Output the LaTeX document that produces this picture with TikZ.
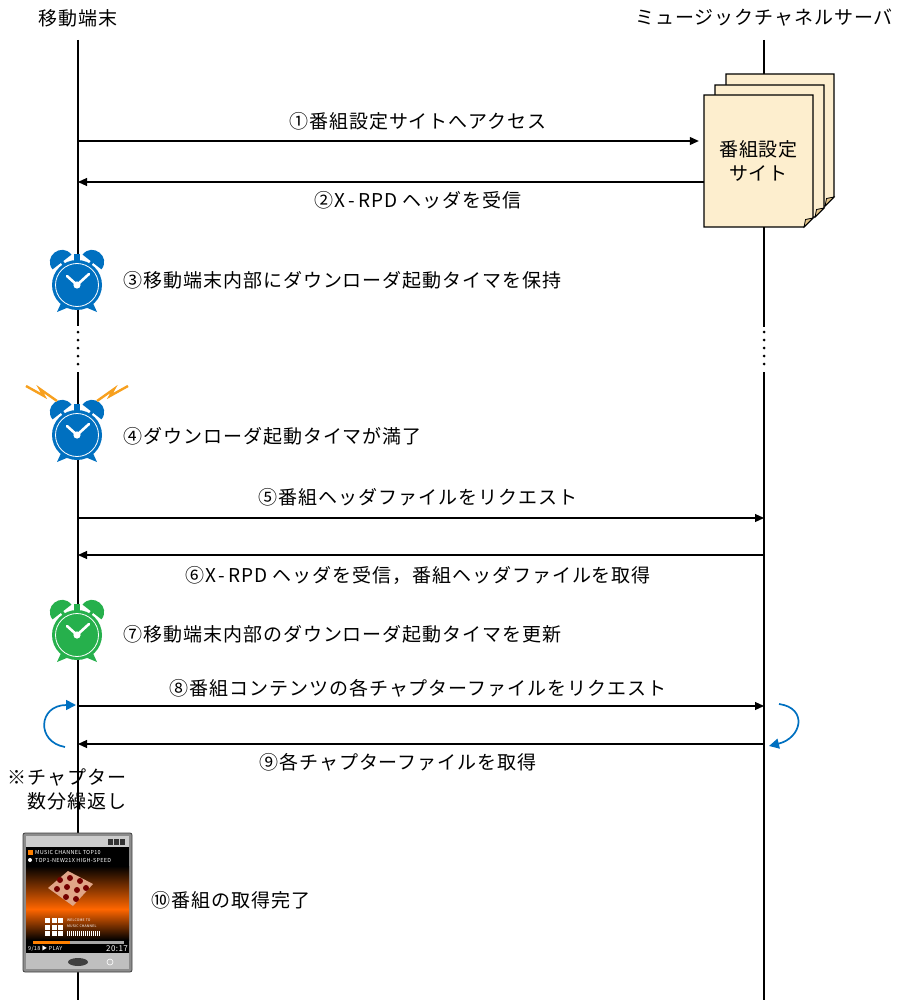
\documentclass[tikz,border=0pt]{standalone}
\usepackage{fontspec}
\setmainfont{Noto Sans CJK JP}[LetterSpace=5]
\usetikzlibrary{arrows.meta}

\definecolor{clockblue}{RGB}{0,112,192}
\definecolor{clockgreen}{RGB}{38,176,76}
\definecolor{sparkorange}{RGB}{247,160,30}
\definecolor{paper}{RGB}{253,238,206}
\definecolor{paperfold}{RGB}{226,196,138}
\definecolor{logotan}{RGB}{224,165,135}

% one sheet of the site stack, corner folded at bottom right
\newcommand\sitesheet[4]{%
  \filldraw[fill=paper,line width=1.1pt] (#1,#2) -- (#3,#2) -- (#3,#4-9) -- (#3-9,#4) -- (#1,#4) -- cycle;
  \filldraw[fill=paperfold,line width=0.8pt] (#3,#4-9) -- (#3-9,#4) -- (#3-7.5,#4-7.5) -- cycle;}

\tikzset{
  pics/alarm/.style={code={
    % bells and feet
    \foreach \s in {1,-1}{
      \begin{scope}[shift={({-15*\s},-23)},rotate={38*\s}]
        \fill[#1] (-12,0) .. controls (-12,-16) and (12,-16) .. (12,0) -- cycle;
        \fill[#1] (-1.5,-1) rectangle (1.5,3);
      \end{scope}
      \fill[#1] ({-15*\s},16) -- ({-20*\s},27) -- ({-8*\s},22) -- cycle;
    }
    \fill[#1] (-3,-31) rectangle (3,-23);
    % face
    \fill[#1] (0,0) circle (25);
    \draw[white,line width=0.8pt] (0,0) circle (21.5);
    \draw[white,line width=2.6pt,line cap=round] (-10,-9) -- (0,0) -- (12,-11);
    \fill[white] (0,0) circle (3.6);
  }}
}

\begin{document}
\begin{tikzpicture}[x=1pt,y=-1pt,font=\fontsize{19}{24}\selectfont,
  life/.style={line width=1.8pt},
  msg/.style={line width=1.1pt,-{Triangle[length=9pt,width=8pt]}},
  loop/.style={clockblue,line width=1.7pt,-{Triangle[length=10pt,width=10pt]}},
  tiny/.style={white,inner sep=0pt,font=\fontsize{5.5}{6}\selectfont}]
\useasboundingbox (0,0) rectangle (896,1000);

% lifelines
\node (term) at (78,18) {移動端末};
\node (serv) at (764,18) {ミュージックチャネルサーバ};
\coordinate (ta) at (78,40);  \coordinate (tb) at (78,326);
\coordinate (tc) at (78,372); \coordinate (td) at (78,1000);
\coordinate (sa) at (764,40);  \coordinate (sb) at (764,327);
\coordinate (sc) at (764,372); \coordinate (sd) at (764,1000);
\draw[life] (ta) -- (tb);
\draw[life] (tc) -- (td);
\draw[life] (sa) -- (sb);
\draw[life] (sc) -- (sd);
\foreach \y in {332,340,348,356,364} {
  \fill (78,\y) circle (1.5);
  \fill (764,\y) circle (1.5);
}

% site pages
\sitesheet{726}{74}{834}{206}
\sitesheet{715}{85}{824}{217}
\sitesheet{704}{95}{813}{227}
\node[minimum width=109pt,minimum height=132pt,align=center] (site) at (758.5,161) {番組設定\\サイト};

% messages
\coordinate (m1) at (78,141);
\coordinate (m2) at (78,182);
\draw[msg,shorten >=5pt] (m1) -- (m1 -| site.west);
\draw[msg] (m2 -| site.west) -- (m2);
\node (l1) at (418,121) {①番組設定サイトへアクセス};
\node (l2) at (418,200) {②X\hspace{3pt}-\hspace{3pt}RPD ヘッダを受信};

\pic at (77,285) {alarm=clockblue};
\node[anchor=west] (l3) at (120,280) {③移動端末内部にダウンローダ起動タイマを保持};

\pic at (77,435) {alarm=clockblue};
\draw[sparkorange,line width=2.4pt,line join=miter] (26,386) -- (44,396) -- (40,389) -- (57,401);
\draw[sparkorange,line width=2.4pt,line join=miter] (128,386) -- (110,396) -- (114,389) -- (97,401);
\node[anchor=west] (l4) at (120,436) {④ダウンローダ起動タイマが満了};

\coordinate (m5) at (78,518);  \coordinate (s5) at (764,518);
\coordinate (m6) at (78,555);  \coordinate (s6) at (764,555);
\draw[msg] (m5) -- (s5);
\draw[msg] (s6) -- (m6);
\node (l5) at (418,497) {⑤番組ヘッダファイルをリクエスト};
\node (l6) at (418,575) {⑥X\hspace{3pt}-\hspace{3pt}RPD ヘッダを受信，番組ヘッダファイルを取得};

\pic at (77,635) {alarm=clockgreen};
\node[anchor=west] (l7) at (120,634) {⑦移動端末内部のダウンローダ起動タイマを更新};

\coordinate (m8) at (78,706);  \coordinate (s8) at (764,706);
\coordinate (m9) at (78,744);  \coordinate (s9) at (764,744);
\draw[msg] (m8) -- (s8);
\draw[msg] (s9) -- (m9);
\node (l8) at (418,688) {⑧番組コンテンツの各チャプターファイルをリクエスト};
\node (l9) at (398,762) {⑨各チャプターファイルを取得};

% repeat loops
\coordinate (la) at (65,747); \coordinate (lb) at (76,705);
\coordinate (ra) at (779,704); \coordinate (rb) at (769,746);
\draw[loop] (la) .. controls (36,742) and (38,705) .. (lb);
\draw[loop] (ra) .. controls (808,708) and (802,738) .. (rb);
\node[align=right,anchor=east] (rep) at (130,789) {※チャプター\\数分繰返し};

% handset screen
\filldraw[fill=black!45,draw=black!75,line width=0.8pt,rounded corners=2pt] (23,833) rectangle (132,972);
\fill[black!20] (26,836) rectangle (129,847);
\foreach \x in {108,114,120} \fill[black!80] (\x,838.5) rectangle ++(4.5,6);
\fill[black] (26,847) rectangle (129,953);
\shade[top color=black,bottom color=orange!80!red] (26,866) rectangle (129,909);
\shade[top color=orange!80!red,bottom color=black] (26,909) rectangle (129,940);
\fill[orange] (27.5,849.5) rectangle (32.5,855);
\fill[white] (30,860) circle (2);
\node[tiny,anchor=west] (t1) at (35,852.5) {MUSIC CHANNEL TOP10};
\node[tiny,anchor=west] (t2) at (35,860) {TOP1-NEW21X HIGH-SPEED};
\fill[logotan] (48,888) -- (68,871) -- (93,884) -- (73,906) -- cycle;
\foreach \p in {(60,880),(70,878),(80,881),(57,889),(67,887),(77,890),(86,888),(66,897),(76,899)}
  \fill[red!45!black] \p circle (3);
\foreach \i in {0,1,2} \foreach \j in {0,1,2}
  \fill[white] ({45+6.5*\i},{918+6.5*\j}) rectangle ++(5,5);
\node[tiny,anchor=west,font=\fontsize{3.5}{4}\selectfont] (t3) at (67,920) {WELCOME TO};
\node[tiny,anchor=west,font=\fontsize{3.5}{4}\selectfont] (t4) at (67,926) {MUSIC CHANNEL};
\foreach \x in {67,69,...,99} \draw[white,line width=0.9pt] (\x,931) -- (\x,936);
\fill[black!35] (33,941) rectangle (124,944);
\fill[orange] (33,941) rectangle (70,944);
\node[tiny,anchor=west] (t5) at (28,949) {9/18 ▶ PLAY};
\node[tiny,anchor=east,font=\fontsize{8}{8}\selectfont] (t6) at (128,949) {20:17};
\fill[black!25] (26,953) rectangle (129,969);
\fill[black!75] (78,962) ellipse (10 and 4);
\draw[white,line width=0.6pt] (110,962) circle (3);
\node[anchor=west] (l10) at (148,900) {⑩番組の取得完了};
\end{tikzpicture}
\end{document}
